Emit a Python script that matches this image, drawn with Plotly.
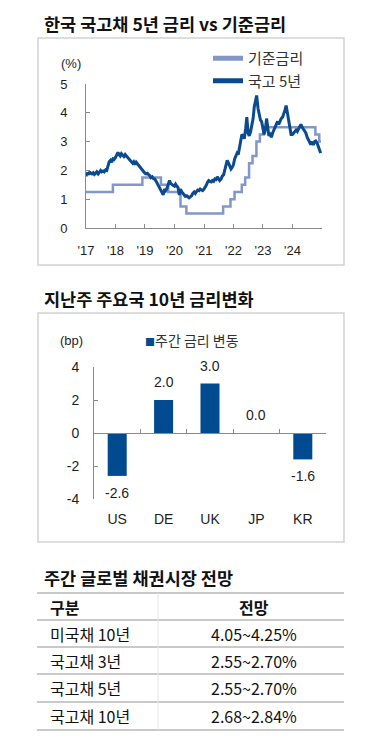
import pandas as pd
import plotly.graph_objects as go

W, H = 384, 742

# ---------------- data ----------------
# Korea 5Y treasury yield (%), twice a month (1st and 15th), Jan 2017 - Dec 2024
ktb5_values = [
    # 2017
    1.80, 1.92, 1.85, 1.95, 1.90, 1.88, 1.92, 1.86, 1.90, 1.95, 1.88, 1.93,
    2.00, 1.95, 1.98, 1.95, 2.02, 2.00, 2.15, 2.30, 2.35, 2.28, 2.40, 2.38,
    # 2018
    2.45, 2.55, 2.62, 2.55, 2.50, 2.58, 2.52, 2.48, 2.55, 2.50, 2.45, 2.40,
    2.35, 2.30, 2.25, 2.30, 2.20, 2.28, 2.22, 2.15, 2.10, 2.05, 2.00, 1.95,
    # 2019
    1.90, 1.88, 1.90, 1.85, 1.82, 1.75, 1.78, 1.72, 1.70, 1.65, 1.55, 1.45,
    1.40, 1.30, 1.18, 1.15, 1.35, 1.30, 1.38, 1.55, 1.65, 1.55, 1.50, 1.48,
    # 2020
    1.45, 1.52, 1.45, 1.40, 1.15, 1.35, 1.25, 1.20, 1.15, 1.10, 1.12, 1.08,
    1.05, 1.08, 1.12, 1.20, 1.25, 1.20, 1.28, 1.32, 1.30, 1.35, 1.32, 1.30,
    # 2021
    1.35, 1.40, 1.50, 1.60, 1.65, 1.62, 1.60, 1.65, 1.62, 1.70, 1.68, 1.78,
    1.72, 1.65, 1.70, 1.80, 1.85, 2.00, 2.10, 2.35, 2.25, 2.15, 2.05, 2.10,
    # 2022
    2.20, 2.40, 2.50, 2.60, 2.55, 2.75, 2.95, 3.25, 3.20, 3.10, 3.45, 3.85,
    3.30, 3.20, 3.35, 3.55, 3.80, 4.20, 4.45, 4.60, 4.15, 3.90, 3.75, 3.70,
    # 2023
    3.40, 3.25, 3.45, 3.80, 3.50, 3.20, 3.25, 3.15, 3.30, 3.40, 3.55, 3.60,
    3.70, 3.60, 3.75, 3.80, 3.85, 3.95, 4.10, 4.25, 4.00, 3.70, 3.50, 3.25,
    # 2024
    3.25, 3.30, 3.35, 3.40, 3.35, 3.42, 3.55, 3.60, 3.50, 3.45, 3.35, 3.30,
    3.15, 3.05, 2.95, 2.90, 3.00, 2.88, 3.00, 3.02, 2.95, 2.85, 2.75, 2.60,
]
ktb5_dates = pd.date_range("2017-01-01", "2024-12-31", freq="SMS")

# BOK base rate (%), change dates
base_dates = ["2017-01-01", "2017-11-30", "2018-11-30", "2019-07-18", "2019-10-16",
              "2020-03-16", "2020-05-28", "2021-08-26", "2021-11-25", "2022-01-14",
              "2022-04-14", "2022-05-26", "2022-07-13", "2022-08-25", "2022-10-12",
              "2022-11-24", "2023-01-13", "2024-10-11", "2024-11-28", "2024-12-20"]
base_values = [1.25, 1.50, 1.75, 1.50, 1.25, 0.75, 0.50, 0.75, 1.00, 1.25,
               1.50, 1.75, 2.25, 2.50, 3.00, 3.25, 3.50, 3.25, 3.00, 3.00]

year_ticks = [f"{y}-01-01" for y in range(2017, 2025)]
year_labels = ["'17", "'18", "'19", "'20", "'21", "'22", "'23", "'24"]

# Weekly change of 10Y yields (bp)
countries = ["US", "DE", "UK", "JP", "KR"]
weekly_change = [-2.6, 2.0, 3.0, 0.0, -1.6]
bp_ticks = [-4, -2, 0, 2, 4]
bp_labels = ["-4", "-2", "0", "2", "4"]

# Outlook table
table_header = ["구분", "전망"]
table_items = ["미국채 10년", "국고채 3년", "국고채 5년", "국고채 10년"]
table_ranges = ["4.05~4.25%", "2.55~2.70%", "2.55~2.70%", "2.68~2.84%"]

titles = ["한국 국고채 5년 금리 vs 기준금리", "지난주 주요국 10년 금리변화", "주간 글로벌 채권시장 전망"]

# ---------------- helpers ----------------
def px(x):
    return x / W

def py(y):
    return 1 - y / H

DARK = "#0b4a8e"
LIGHT = "#8296c8"
BAR = "#004a8f"
AXIS = "#8a8a8a"
TXT = "#1e1e1e"
FONT = "Liberation Sans, Arial, Noto Sans CJK KR, sans-serif"
KFONT = "Noto Sans CJK KR, sans-serif"

fig = go.Figure()

fig.add_trace(go.Scatter(
    x=base_dates, y=base_values, mode="lines", line_shape="hv",
    line=dict(color=LIGHT, width=2.5), name="기준금리", legend="legend",
    xaxis="x", yaxis="y"))
fig.add_trace(go.Scatter(
    x=ktb5_dates, y=ktb5_values, mode="lines",
    line=dict(color=DARK, width=3), name="국고 5년", legend="legend",
    xaxis="x", yaxis="y"))

fig.add_trace(go.Bar(
    x=countries, y=weekly_change, marker=dict(color=BAR, line=dict(width=0)),
    width=0.41, name="주간 금리 변동", showlegend=False,
    xaxis="x2", yaxis="y2"))

annotations = []
shapes = []


def note(text, x, y, size, family=KFONT, color="#111111", xanchor="left"):
    annotations.append(dict(
        text=text, x=px(x), y=py(y), xref="paper", yref="paper",
        xanchor=xanchor, yanchor="middle", showarrow=False,
        font=dict(family=family, size=size, color=color)))


# titles
for t, y in zip(titles, [23, 298, 577]):
    note(f"<b>{t}</b>", 42, y, 17.5)

# boxes around charts
for (y0, y1) in [(38, 265), (313, 542)]:
    shapes.append(dict(type="rect", xref="paper", yref="paper",
                       x0=px(38), x1=px(344), y0=py(y1), y1=py(y0),
                       line=dict(color="#d2d2d2", width=1.5)))

# unit labels
note("(%)", 71, 64, 13, family=FONT, color=TXT, xanchor="center")
note("(bp)", 71, 340, 13, family=FONT, color=TXT, xanchor="center")

# bar legend
note(f"<span style='color:{BAR};font-size:10px'>■</span>주간 금리 변동", 143, 340, 14,
     color="#333333")

# bar value labels
for c, v in zip(countries, weekly_change):
    annotations.append(dict(
        text=f"{v:.1f}", x=c, y=v, xref="x2", yref="y2", showarrow=False,
        xanchor="center", yanchor="middle", yshift=18 if v >= 0 else -17,
        font=dict(family=FONT, size=14, color=TXT)))

# table
tx0, tx1, tdiv = 37, 344, 158
row_lines = [593, 620, 647, 674, 702, 730]
for yl in row_lines:
    shapes.append(dict(type="line", xref="paper", yref="paper",
                       x0=px(tx0), x1=px(tx1), y0=py(yl), y1=py(yl),
                       line=dict(color="#c9c9c9", width=2)))
shapes.append(dict(type="line", xref="paper", yref="paper",
                   x0=px(tdiv), x1=px(tdiv), y0=py(row_lines[0]), y1=py(row_lines[-1]),
                   line=dict(color="#e6e6e6", width=1)))
centers = [(a + b) / 2 for a, b in zip(row_lines[:-1], row_lines[1:])]
note(f"<b>{table_header[0]}</b>", 48, centers[0], 16)
note(f"<b>{table_header[1]}</b>", 254, centers[0], 16, xanchor="center")
for item, rng, yc in zip(table_items, table_ranges, centers[1:]):
    note(item, 48, yc, 16)
    note(rng, 254, yc, 16, xanchor="center")

fig.update_layout(
    width=W, height=H, margin=dict(l=0, r=0, t=0, b=0, pad=0, autoexpand=False),
    autosize=False,
    paper_bgcolor="white", plot_bgcolor="white",
    font=dict(family=FONT, size=13, color=TXT),
    showlegend=True,
    legend=dict(x=px(208), y=py(42), xanchor="left", yanchor="top",
                bgcolor="rgba(0,0,0,0)", font=dict(family=KFONT, size=15, color="#333333"),
                tracegroupgap=0, itemsizing="constant"),
    xaxis=dict(domain=[px(86), px(322)], anchor="y", type="date", automargin=False,
               range=["2017-01-01", "2025-01-01"], tickvals=year_ticks, ticktext=year_labels,
               ticks="inside", ticklen=4, tickcolor=AXIS, showline=True, linecolor=AXIS,
               linewidth=1, showgrid=False, zeroline=False, ticklabelstandoff=10,
               tickfont=dict(family=FONT, size=13, color=TXT)),
    yaxis=dict(domain=[py(228), py(84)], anchor="x", range=[0, 5], dtick=1, automargin=False,
               ticks="inside", ticklen=4, tickcolor=AXIS, showline=True, linecolor=AXIS,
               linewidth=1, showgrid=False, zeroline=False, ticklabelstandoff=15,
               tickfont=dict(family=FONT, size=13, color=TXT)),
    xaxis2=dict(domain=[px(94), px(326)], anchor="free", position=py(433), automargin=False,
                type="category", tickson="boundaries", ticks="inside", ticklen=4,
                tickcolor=AXIS, showline=True, linecolor=AXIS, linewidth=1,
                showgrid=False, zeroline=False, ticklabelstandoff=73,
                tickfont=dict(family=FONT, size=14, color=TXT)),
    yaxis2=dict(domain=[py(499), py(367)], anchor="x2", range=[-4, 4],
                tickvals=bp_ticks, ticktext=bp_labels, automargin=False,
                ticks="inside", ticklen=4, tickcolor=AXIS, showline=True, linecolor=AXIS,
                linewidth=1, showgrid=False, zeroline=False, ticklabelstandoff=11,
                tickfont=dict(family=FONT, size=14, color=TXT)),
    annotations=annotations, shapes=shapes,
)

fig.write_html("out.html", config={"displayModeBar": False},
               post_script="document.body.style.margin='0';document.body.style.overflow='hidden';")
